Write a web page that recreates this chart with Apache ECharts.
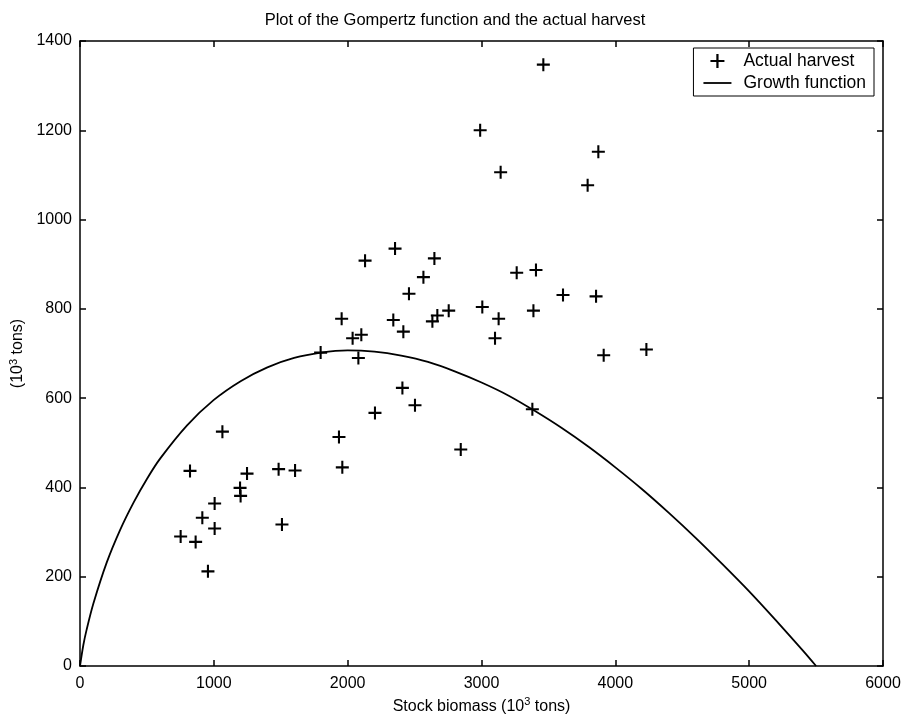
<!DOCTYPE html>
<html>
<head>
<meta charset="utf-8">
<script src="https://cdn.jsdelivr.net/npm/echarts@6/dist/echarts.min.js"></script>
<style>
html,body{margin:0;padding:0;background:#fff;}
#chart{width:904px;height:721px;}
</style>
</head>
<body>
<div id="chart"></div>
<script>
// Actual harvest: stock biomass (10^3 tons) and harvest (10^3 tons)
var harvestX = [752, 864, 956, 914, 1006, 1006, 822, 1064, 1196, 1200, 1248, 1484, 1509, 1607, 1935, 1960,
  1955, 1798, 2354, 2130, 2648, 2566, 3263, 2458, 2341, 2633, 2670, 2755, 3006, 3128, 3101, 2037,
  2102, 2416, 2080, 2409, 2503, 2204, 2845, 3380, 3462, 2990, 3143, 3873, 3793, 3407, 3609, 3856,
  3388, 3913, 4232];
var harvestY = [290, 278, 212, 332, 364, 308, 437, 525, 399, 381, 431, 441, 317, 438, 513, 445,
  778, 702, 935, 908, 913, 871, 881, 834, 775, 772, 785, 796, 804, 778, 734, 734,
  742, 749, 690, 623, 584, 567, 485, 575, 1347, 1200, 1106, 1152, 1077, 887, 831, 828,
  796, 696, 709];
// Growth function curve
var growthX = [0, 25, 50, 100, 200, 300, 400, 500, 600, 800, 1000, 1200, 1400, 1600, 1800, 2000,
  2200, 2400, 2600, 2800, 3000, 3200, 3400, 3600, 3800, 4000, 4200, 4400, 4600, 4800, 5000,
  5200, 5400, 5500];
var growthY = [0, 47, 82, 140, 232, 305, 366, 419, 465, 539, 596, 638, 669, 690, 702, 707,
  704, 695, 681, 660, 635, 606, 571, 533, 491, 445, 396, 343, 287, 228, 167,
  102, 35, 0];
var xTicks = [0, 1000, 2000, 3000, 4000, 5000, 6000];
var yTicks = [0, 200, 400, 600, 800, 1000, 1200, 1400];
var titleText = 'Plot of the Gompertz function and the actual harvest';
var seriesNames = ['Actual harvest', 'Growth function'];

var scatterData = harvestX.map(function (x, i) { return [x, harvestY[i]]; });
var lineData = growthX.map(function (x, i) { return [x, growthY[i]]; });

var FONT = '"Liberation Sans", Arial, Helvetica, sans-serif';
var plusPath = 'path://M4.2,0h1.6v10h-1.6z M0,4.2h10v1.6h-10z';
var linePath = 'path://M0,0h28v1.8h-28z';

function axis(extra) {
  var base = {
    type: 'value',
    axisLine: { show: true, onZero: false, lineStyle: { color: '#000', width: 1.5 } },
    axisTick: { show: true, inside: true, length: 6, lineStyle: { color: '#000', width: 1.5 } },
    splitLine: { show: false }
  };
  return Object.assign(base, extra);
}
function plain(v) { return String(v); }

var chart = echarts.init(document.getElementById('chart'), null, { renderer: 'canvas' });
chart.setOption({
  backgroundColor: '#fff',
  animation: false,
  textStyle: { fontFamily: FONT, color: '#000' },
  title: {
    text: titleText,
    left: 450, top: 7, textAlign: 'center',
    textStyle: { fontFamily: FONT, fontSize: 16.5, fontWeight: 'normal', color: '#000' }
  },
  grid: { left: 80, right: 21, top: 41, bottom: 55, containLabel: false, outerBoundsMode: 'none' },
  legend: {
    orient: 'vertical',
    right: 30, top: 48,
    padding: [4, 8, 4, 10],
    itemGap: 4,
    itemWidth: 28, itemHeight: 14,
    backgroundColor: '#fff',
    borderColor: '#000', borderWidth: 1, borderRadius: 0,
    textStyle: { fontFamily: FONT, fontSize: 17.5, color: '#000', padding: [0, 0, 0, 7] },
    data: [
      { name: seriesNames[0], icon: plusPath, itemStyle: { color: '#000', opacity: 1 } },
      { name: seriesNames[1], icon: linePath, itemStyle: { color: '#000' } }
    ]
  },
  xAxis: [
    axis({
      min: 0, max: 6000, interval: 1000,
      position: 'bottom',
      axisLabel: { show: true, margin: 10, fontSize: 16, fontFamily: FONT, color: '#000',
        customValues: xTicks, formatter: plain },
      name: 'Stock biomass (10{sup|3} tons)',
      nameLocation: 'middle', nameGap: 30,
      nameTextStyle: { fontSize: 16, fontFamily: FONT, color: '#000',
        rich: { sup: { fontSize: 11, fontFamily: FONT, color: '#000', verticalAlign: 'top', padding: [0, 0, 8, 0] } } }
    }),
    axis({ min: 0, max: 6000, interval: 1000, position: 'top', axisLabel: { show: false } })
  ],
  yAxis: [
    axis({
      min: 0, max: 1400, interval: 200,
      position: 'left',
      axisLabel: { show: true, margin: 8, fontSize: 16, fontFamily: FONT, color: '#000',
        customValues: yTicks, formatter: plain },
      name: '(10{sup|3} tons)',
      nameLocation: 'middle', nameGap: 45, nameRotate: 90,
      nameTextStyle: { fontSize: 16, fontFamily: FONT, color: '#000',
        rich: { sup: { fontSize: 11, fontFamily: FONT, color: '#000', verticalAlign: 'top', padding: [0, 0, 8, 0] } } }
    }),
    axis({ min: 0, max: 1400, interval: 200, position: 'right', axisLabel: { show: false } })
  ],
  series: [
    {
      name: seriesNames[0],
      type: 'scatter',
      data: scatterData,
      symbol: plusPath,
      symbolSize: 13,
      itemStyle: { color: '#000', opacity: 1 },
      z: 3
    },
    {
      name: seriesNames[1],
      type: 'line',
      data: lineData,
      smooth: 0.3,
      showSymbol: false,
      symbol: 'none',
      lineStyle: { color: '#000', width: 1.8 },
      itemStyle: { color: '#000' },
      z: 2
    }
  ]
});
</script>
</body>
</html>
